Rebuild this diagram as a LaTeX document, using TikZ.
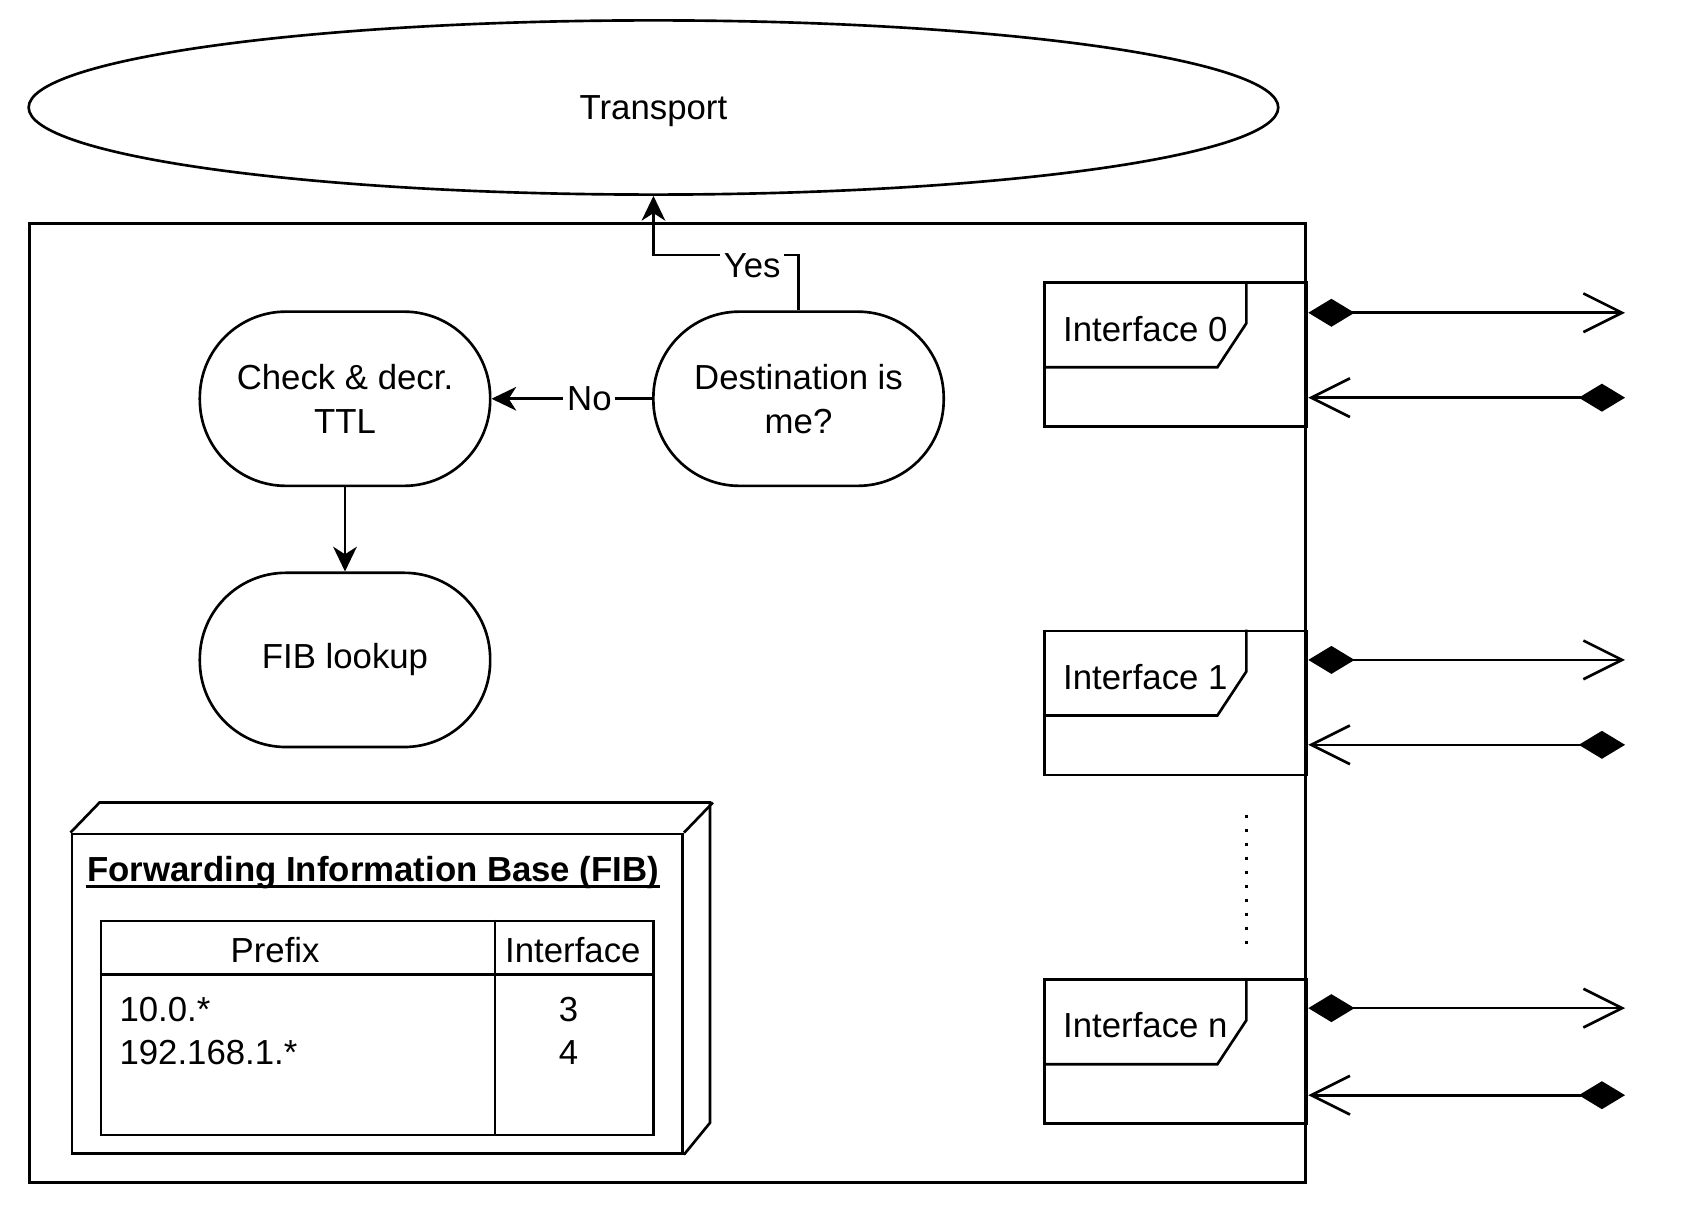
\documentclass[tikz,border=0pt]{standalone}
\usepackage{fontspec}
\setmainfont{Liberation Sans}
\usetikzlibrary{shapes.geometric, arrows.meta, calc}

\begin{document}
\begin{tikzpicture}[x=0.01cm, y=-0.01cm, line width=0.7pt,
        font=\fontsize{9.2}{11.7}\selectfont,
        proc/.style={draw, rounded corners=0.8cm, minimum width=2.7cm, minimum height=1.62cm, align=center, inner sep=0},
        iface/.style={draw, minimum width=2.44cm, minimum height=1.34cm, inner sep=0},
        lbl/.style={fill=white, inner sep=1pt},
        flow/.style={-{Stealth[length=0.23cm, width=0.22cm, inset=0.07cm]}},
        outlink/.style={{Diamond[length=0.43cm, width=0.26cm]}-{Straight Barb[length=0.36cm, width=0.36cm]}},
        inlink/.style={{Straight Barb[length=0.36cm, width=0.36cm]}-{Diamond[length=0.43cm, width=0.26cm]}}]
        \useasboundingbox (0,0) rectangle (1565,1126);

        % Transport layer on top
        \node[draw, ellipse, minimum width=11.62cm, minimum height=1.62cm, inner sep=0, text depth=0pt] (transport) at (608,100) {Transport};

        % The router box
        \node[draw, minimum width=11.87cm, minimum height=8.92cm] (router) at (621,654) {};

        % Processing steps
        \node[proc] (dest) at (743,371) {Destination is\\me?};
        \node[proc] (check) at (321,371) {Check \& decr.\\TTL};
        \node[proc] (lookup) at (321,614) {FIB lookup};

        % Arrows between the steps
        \draw[flow] (dest.north) |- node[lbl, pos=0.66, yshift=-0.1cm] {Yes} ($(transport.south)+(0,55)$) -- (transport.south); % up to transport
        \draw[flow] (dest.west) -- node[lbl, pos=0.39] {No} (check.east);
        \draw[flow] (check.south) -- (lookup.north);

        % Forwarding information base (3D box)
        \node[draw, minimum width=5.68cm, minimum height=2.97cm] (fib) at (351,924.5) {};
        \draw (fib.north west) -- ++(27,-28) -- ++(568,0) -- ++(0,298) -- (fib.south east);
        \draw ($(fib.north east)+(27,-28)$) -- (fib.north east);
        \node[anchor=base west, inner sep=0, font=\fontsize{9.2}{11.7}\selectfont\bfseries] (fibtitle) at (80,820) {Forwarding Information Base (FIB)};
        \draw[line width=0.6pt] ([yshift=-1.4pt]fibtitle.base west) -- ([yshift=-1.4pt]fibtitle.base east);

        % Table inside the FIB
        \node[draw, minimum width=5.14cm, minimum height=1.99cm] (fibtab) at (351,956.5) {};
        \draw ($(fibtab.north west)+(0,51)$) -- ($(fibtab.north east)+(0,51)$);
        \draw ($(fibtab.north west)+(368,0)$) -- ($(fibtab.south west)+(368,0)$);
        \node (hprefix) at (256,884) {Prefix};
        \node (hiface) at (533,884) {Interface};
        \node[anchor=west, inner sep=0] (pfx1) at (110,939) {10.0.*};
        \node[anchor=west, inner sep=0] (pfx2) at (110,979) {192.168.1.*};
        \node (ifc1) at (529,939) {3};
        \node (ifc2) at (529,979) {4};

        % Interfaces on the right
        \node[iface] (if0) at (1094,330) {};
        \node[iface] (if1) at (1094,654) {};
        \node[iface] (ifn) at (1094,978.5) {};
        \draw ($(if0.north west)+(189,0)$) -- ++(0,39) -- ++(-27,41) -- ++(-162,0);
        \draw ($(if1.north west)+(189,0)$) -- ++(0,39) -- ++(-27,41) -- ++(-162,0);
        \draw ($(ifn.north west)+(189,0)$) -- ++(0,39) -- ++(-27,41) -- ++(-162,0);
        \node (if0lbl) at ($(if0.north west)+(95,44)$) {Interface 0};
        \node (if1lbl) at ($(if1.north west)+(95,44)$) {Interface 1};
        \node (ifnlbl) at ($(ifn.north west)+(95,44)$) {Interface n};

        % Dots between interface 1 and n
        \draw[line width=0.9pt, dash pattern=on 0.9pt off 2.8pt] (1160,758) -- (1160,885);

        % Links leaving and entering each interface
        \coordinate (if0o) at (1512,291);
        \coordinate (if0i) at (1512,370);
        \coordinate (if1o) at (1512,614);
        \coordinate (if1i) at (1512,693);
        \coordinate (ifno) at (1512,938);
        \coordinate (ifni) at (1512,1019);
        \draw[outlink] (if0o -| if0.east) -- (if0o);
        \draw[inlink] (if0i -| if0.east) -- (if0i);
        \draw[outlink] (if1o -| if1.east) -- (if1o);
        \draw[inlink] (if1i -| if1.east) -- (if1i);
        \draw[outlink] (ifno -| ifn.east) -- (ifno);
        \draw[inlink] (ifni -| ifn.east) -- (ifni);
    \end{tikzpicture}
\end{document}
